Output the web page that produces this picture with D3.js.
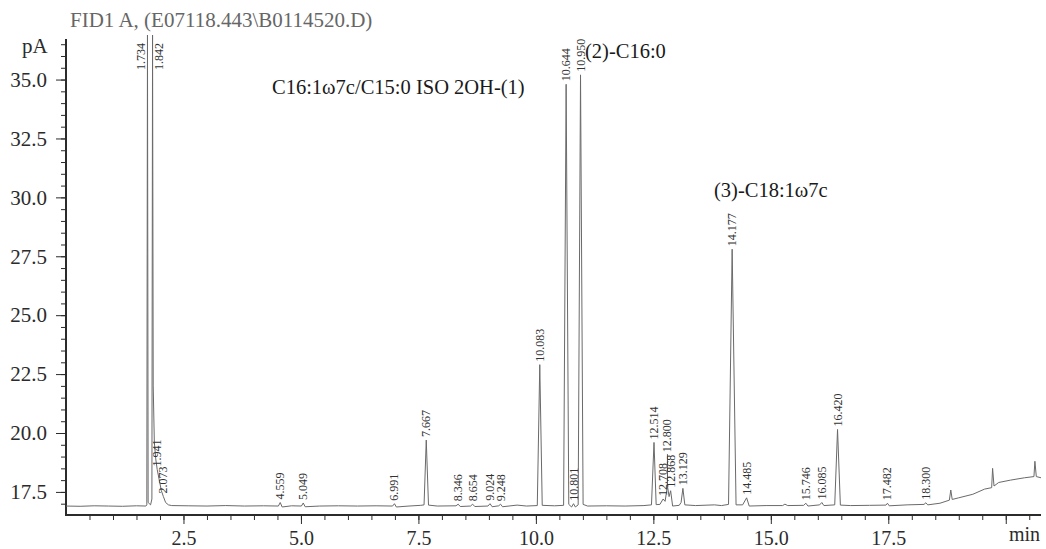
<!DOCTYPE html>
<html>
<head>
<meta charset="utf-8">
<script src="https://cdn.jsdelivr.net/npm/d3@7"></script>
<style>
  body { margin: 0; background: #fff; }
  text { font-family: "Liberation Serif", "Times New Roman", serif; }
</style>
</head>
<body>
<script>
// trace: retention time (min) and signal (pA)
var traceTime = [0.00,0.30,0.60,0.90,1.20,1.50,1.70,1.720,1.734,1.748,1.800,1.828,1.842,1.856,1.880,1.910,1.941,1.980,2.030,2.073,2.120,2.180,2.250,2.60,3.00,3.40,3.80,4.20,4.52,4.559,4.60,4.80,5.01,5.049,5.09,5.40,5.80,6.20,6.60,6.95,6.991,7.03,7.30,7.55,7.62,7.667,7.715,7.90,8.30,8.346,8.39,8.61,8.654,8.70,8.98,9.024,9.07,9.21,9.248,9.29,9.60,9.80,10.03,10.083,10.135,10.40,10.59,10.644,10.700,10.760,10.801,10.840,10.900,10.950,11.005,11.10,11.50,11.90,12.30,12.46,12.514,12.560,12.640,12.708,12.750,12.800,12.835,12.868,12.910,13.050,13.090,13.129,13.170,13.40,13.80,13.95,14.10,14.177,14.26,14.40,14.485,14.54,14.90,15.25,15.30,15.36,15.70,15.746,15.79,16.04,16.085,16.13,16.36,16.420,16.48,16.70,17.10,17.45,17.482,17.52,17.90,18.26,18.300,18.34,18.60,18.80,18.83,18.86,19.00,19.30,19.55,19.70,19.72,19.75,19.85,20.10,20.40,20.60,20.62,20.65,20.75];
var tracePA = [16.90,16.89,16.91,16.90,16.89,16.91,16.90,16.95,37.3,17.05,16.95,17.2,37.3,22.0,19.6,18.9,18.45,18.05,17.55,17.30,17.05,16.95,16.92,16.91,16.90,16.92,16.90,16.91,16.90,17.05,16.86,16.91,16.90,17.03,16.87,16.90,16.91,16.90,16.91,16.90,17.00,16.86,16.90,16.93,16.95,19.70,16.94,16.90,16.91,16.98,16.88,16.90,16.98,16.88,16.90,17.00,16.87,16.91,16.98,16.87,16.94,16.90,16.92,22.90,16.93,16.91,16.93,34.80,16.97,16.86,17.00,16.86,16.95,35.20,16.97,16.90,16.91,16.90,16.92,16.95,19.60,16.96,16.97,17.20,17.10,17.75,17.30,17.55,16.90,16.93,17.05,17.65,16.95,16.92,16.95,16.92,16.97,27.80,16.95,16.95,17.25,16.90,16.92,16.92,16.98,16.92,16.93,17.02,16.90,16.95,17.05,16.92,16.95,20.15,16.94,16.92,16.93,16.94,17.02,16.91,16.95,16.97,17.04,16.95,17.02,17.15,17.58,17.18,17.25,17.40,17.62,17.68,18.50,17.75,17.90,18.00,18.10,18.15,18.80,18.15,18.10];

// labelled peaks
var peakLabels = ["1.734","1.842","1.941","2.073","4.559","5.049","6.991","7.667","8.346","8.654","9.024","9.248","10.083","10.644","10.801","10.950","12.514","12.708","12.800","12.868","13.129","14.177","14.485","15.746","16.085","16.420","17.482","18.300"];
var peakApex = [37.3,37.3,18.45,17.30,17.05,17.03,17.00,19.70,16.98,16.98,17.00,16.98,22.90,34.80,17.00,35.20,19.60,17.20,17.75,17.55,17.65,27.80,17.25,17.02,17.05,20.15,17.02,17.04];

var yMajor = [17.5,20.0,22.5,25.0,27.5,30.0,32.5,35.0];
var xMajor = [2.5,5.0,7.5,10.0,12.5,15.0,17.5];

var W = 1046, H = 549;
var svg = d3.select("body").append("svg")
  .attr("width", W).attr("height", H);

var x = d3.scaleLinear().domain([0, 20.75]).range([66, 1041]);
var y = d3.scaleLinear().domain([16.52, 36.7]).range([515, 39.5]);

var ink = "#2b2b2b";

// title + unit labels
svg.append("text").attr("x", 70).attr("y", 27)
  .attr("font-size", 21).attr("fill", "#666")
  .text("FID1 A, (E07118.443\\B0114520.D)");
svg.append("text").attr("x", 22).attr("y", 53)
  .attr("font-size", 21).attr("fill", ink).text("pA");
svg.append("text").attr("x", 1040).attr("y", 541)
  .attr("text-anchor", "end")
  .attr("font-size", 20).attr("fill", ink).text("min");

// y axis
var yMinor = d3.range(17.0, 36.6, 0.5);
svg.append("g").attr("transform", "translate(66,0)")
  .call(d3.axisLeft(y).tickValues(yMinor).tickSize(5).tickFormat(""))
  .call(function(g) {
    g.select(".domain").remove();
    g.selectAll("line").attr("stroke", ink);
  });
svg.append("g").attr("transform", "translate(66,0)")
  .call(d3.axisLeft(y).tickValues(yMajor).tickSize(10).tickPadding(9)
    .tickFormat(d3.format(".1f")))
  .call(function(g) {
    g.select(".domain").remove();
    g.selectAll("line").attr("stroke", ink);
    g.selectAll("text").attr("font-size", 21).attr("fill", ink)
      .attr("font-family", "Liberation Serif");
  });
svg.append("line").attr("x1", 66).attr("x2", 66)
  .attr("y1", 39).attr("y2", 516).attr("stroke", ink).attr("stroke-width", 2);

// x axis
var xMinor = d3.range(0.5, 20.6, 0.5);
svg.append("g").attr("transform", "translate(0,515)")
  .call(d3.axisBottom(x).tickValues(xMinor).tickSize(5).tickFormat(""))
  .call(function(g) {
    g.select(".domain").remove();
    g.selectAll("line").attr("stroke", ink);
  });
svg.append("g").attr("transform", "translate(0,515)")
  .call(d3.axisBottom(x).tickValues(xMajor.concat([20.0])).tickSize(9).tickPadding(7)
    .tickFormat(function(d) { return d === 20 ? "" : d3.format(".1f")(d); }))
  .call(function(g) {
    g.select(".domain").remove();
    g.selectAll("line").attr("stroke", ink);
    g.selectAll("text").attr("font-size", 20).attr("fill", ink)
      .attr("font-family", "Liberation Serif");
  });
svg.append("line").attr("x1", 65).attr("x2", 1041)
  .attr("y1", 515).attr("y2", 515).attr("stroke", ink).attr("stroke-width", 2);

// trace
var pts = traceTime.map(function(t, i) { return [t, tracePA[i]]; });
var line = d3.line()
  .x(function(d) { return x(d[0]); })
  .y(function(d) { return Math.max(y(d[1]), 35); });
svg.append("path").datum(pts)
  .attr("d", line)
  .attr("fill", "none")
  .attr("stroke", "#6a6a6a")
  .attr("stroke-width", 1);

// peak labels, rotated
var sideShift = { "1.734": -6, "1.842": 6 };
var liftTo = { "12.800": 19.1 };
var topAnchor = 70;
peakLabels.forEach(function(lab, i) {
  var t = +lab;
  var px = x(t) + (sideShift[lab] || 0);
  var ay = Math.max(y(peakApex[i]) - 3, topAnchor);
  if (liftTo[lab]) {
    var ly = y(liftTo[lab]);
    svg.append("line").attr("x1", x(t)).attr("x2", x(t))
      .attr("y1", ly).attr("y2", y(peakApex[i]))
      .attr("stroke", "#555").attr("stroke-width", 1);
    ay = ly - 2;
  }
  svg.append("text")
    .attr("transform", "translate(" + (px + 4) + "," + ay + ") rotate(-90)")
    .attr("font-size", 12).attr("fill", "#333")
    .text(lab);
});

// compound annotations
svg.append("text").attr("x", 272).attr("y", 94)
  .attr("font-size", 20.5).attr("fill", "#1a1a1a")
  .text("C16:1\u03c97c/C15:0 ISO 2OH-(1)");
svg.append("text").attr("x", 585).attr("y", 58)
  .attr("font-size", 20.5).attr("fill", "#1a1a1a")
  .text("(2)-C16:0");
svg.append("text").attr("x", 714).attr("y", 197)
  .attr("font-size", 20.5).attr("fill", "#1a1a1a")
  .text("(3)-C18:1\u03c97c");
</script>
</body>
</html>
